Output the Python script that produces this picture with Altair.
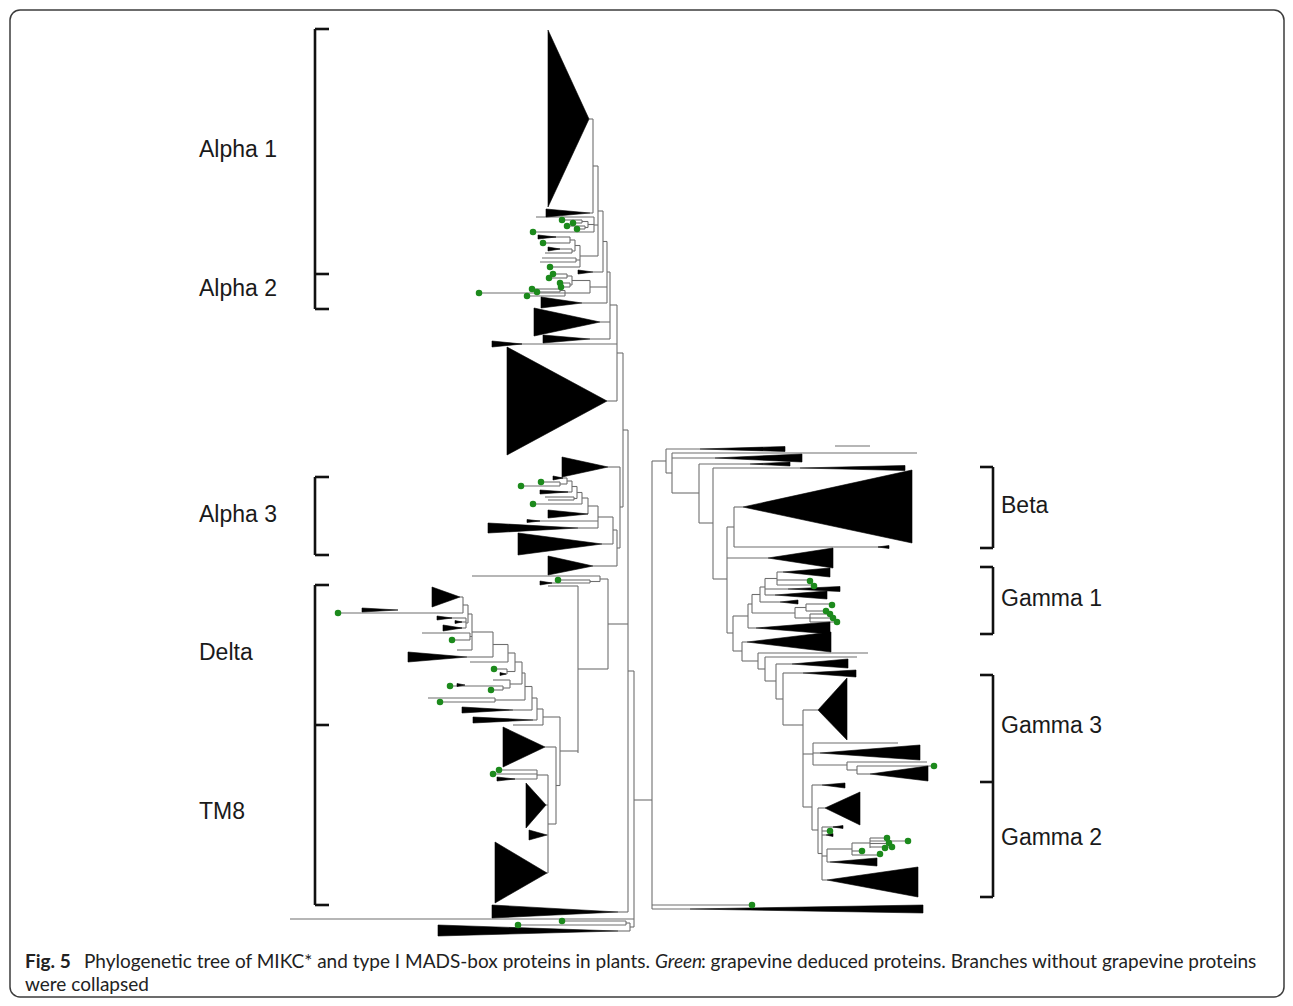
import altair as alt
import pandas as pd

# ---------------- tree data (x = branch position, y = row position) ----------------
# Horizontal branches: (x_from, x_to, y)
alpha12_h = [
    (589, 593, 119), (590, 593, 213), (593, 598, 166),
    (562, 582, 220), (573, 582, 223), (582, 588, 221.5),
    (567, 585, 226), (577, 585, 229), (585, 588, 227.5), (588, 594, 224.5),
    (536, 594, 217), (533, 594, 232), (594, 598, 225),
    (538, 570, 237), (543, 570, 243), (570, 575, 240),
    (548, 572, 249), (545, 572, 253), (572, 575, 251), (575, 580, 245.5),
    (542, 576, 258), (540, 576, 262), (576, 580, 260), (550, 580, 267),
    (580, 598, 256), (598, 603, 211), (593, 603, 272), (603, 607, 241.5),
    (553, 567, 274), (549, 567, 278), (567, 572, 276),
    (560, 570, 283), (561, 570, 287), (570, 572, 285), (572, 590, 280.5),
    (532, 560, 289), (537, 560, 292), (560, 565, 290.5),
    (479, 565, 293), (527, 565, 296), (565, 590, 293), (590, 607, 287),
    (582, 607, 303), (607, 610, 272), (600, 610, 322), (590, 610, 339),
    (610, 617, 305), (492, 617, 344), (607, 617, 401), (617, 623, 353),
]
alpha12_v = [
    (593, 119, 213), (582, 220, 223), (585, 226, 229), (588, 221.5, 227.5),
    (594, 217, 232), (570, 237, 243), (572, 249, 253), (575, 240, 251),
    (576, 258, 262), (580, 245.5, 267), (598, 166, 256), (603, 211, 272),
    (567, 274, 278), (570, 283, 287), (572, 276, 285), (560, 289, 292),
    (565, 290.5, 296), (590, 280.5, 293), (607, 241.5, 303), (610, 272, 339),
    (617, 305, 401),
]
# Collapsed clades: (tip_x, tip_y, base_x, base_y1, base_y2)
alpha12_tri = [
    (589, 119, 548, 30, 207), (590, 213, 546, 209, 217), (556, 237, 538, 235, 239),
    (560, 249, 548, 247, 251), (593, 272, 578, 270, 274), (582, 303, 541, 297, 308),
    (600, 322, 534, 308, 336), (590, 339, 543, 335, 343), (522, 344, 492, 341, 347),
    (607, 401, 507, 347, 455),
]
alpha12_dots = [
    (562, 220), (567, 226), (573, 223), (577, 229), (533, 232), (543, 243),
    (550, 267), (553, 274), (549, 278), (560, 283), (561, 287), (532, 289),
    (537, 292), (479, 293), (527, 296),
]

alpha3_h = [
    (608, 620, 467), (521, 560, 486), (541, 560, 482), (560, 567, 484),
    (555, 567, 478), (567, 572, 481), (540, 572, 492), (572, 577, 486.5),
    (545, 574, 497), (548, 574, 500), (574, 577, 498.5), (577, 582, 492.5),
    (533, 582, 504), (582, 588, 498), (588, 598, 506), (527, 598, 521),
    (578, 598, 528), (598, 613, 517), (602, 613, 544), (613, 617, 530),
    (593, 617, 566), (617, 620, 548), (620, 623, 507), (623, 628, 430),
    (472, 600, 576), (558, 590, 580), (540, 590, 583), (590, 600, 581.5),
    (600, 608, 579), (548, 578, 586), (578, 608, 669), (608, 628, 624),
]
alpha3_v = [
    (560, 482, 486), (567, 478, 484), (572, 481, 492), (574, 497, 500),
    (577, 486.5, 498.5), (582, 492.5, 504), (588, 498, 514), (598, 506, 528),
    (613, 517, 544), (617, 530, 566), (620, 467, 548), (623, 353, 507),
    (590, 580, 583), (600, 576, 581.5), (578, 586, 753), (608, 579, 669),
]
alpha3_tri = [
    (608, 467, 562, 457, 477), (563, 478, 553, 476, 480), (568, 492, 540, 490, 494),
    (588, 514, 548, 510, 518), (540, 521, 527, 519.5, 522.5), (578, 528, 488, 523, 533),
    (602, 544, 518, 533, 555), (593, 566, 548, 556, 575), (552, 583, 540, 581, 585),
]
alpha3_dots = [(521, 486), (541, 482), (533, 504), (558, 580)]

delta_h = [
    (460, 463, 597), (338, 463, 613), (463, 468, 605), (437, 466, 618),
    (455, 466, 622), (443, 466, 628), (466, 468, 623), (468, 472, 614),
    (422, 470, 633), (452, 470, 640), (470, 472, 636.5), (457, 472, 650),
    (472, 493, 632), (467, 493, 657), (493, 508, 644.5), (470, 508, 662),
    (508, 515, 653), (494, 507, 669), (500, 507, 674), (507, 515, 671.5),
    (515, 522, 662), (450, 503, 686), (491, 503, 690), (503, 510, 688),
    (493, 510, 680), (510, 522, 684), (522, 525, 673), (428, 495, 698),
    (440, 495, 702), (495, 525, 700), (525, 532, 686.5), (513, 532, 710),
    (532, 537, 698), (533, 537, 720), (537, 543, 709), (513, 543, 725),
    (543, 560, 717),
]
delta_v = [
    (463, 597, 613), (466, 618, 628), (468, 605, 623), (470, 633, 640),
    (472, 614, 650), (493, 632, 657), (508, 644.5, 662), (507, 669, 674),
    (515, 653, 671.5), (503, 686, 690), (510, 680, 688), (522, 662, 684),
    (495, 698, 702), (525, 673, 700), (532, 686.5, 710), (537, 698, 720),
    (543, 709, 725),
]
delta_tri = [
    (460, 597, 432, 587, 607), (398, 610, 362, 608, 612), (452, 618, 437, 616, 620),
    (462, 622, 455, 620.5, 623.5), (462, 628, 443, 625, 631), (467, 657, 408, 652, 662),
    (506, 674, 500, 672.5, 675.5), (465, 685, 457, 683.5, 686.5),
    (513, 710, 462, 707, 713), (533, 720, 473, 717, 723),
]
delta_dots = [(338, 613), (452, 640), (494, 669), (450, 686), (491, 690), (440, 702)]

tm8_h = [
    (545, 556, 747), (499, 537, 770), (493, 537, 774), (497, 537, 779),
    (537, 548, 775), (546, 548, 805), (547, 548, 835), (547, 548, 873),
    (548, 556, 824), (556, 560, 785.5), (560, 578, 751),
]
tm8_v = [(537, 770, 779), (548, 775, 873), (556, 747, 824), (560, 717, 785.5)]
tm8_tri = [
    (545, 747, 503, 727, 767), (515, 779, 497, 777, 781), (546, 805, 526, 783, 828),
    (547, 835, 529, 830, 840), (547, 873, 495, 842, 903),
]
tm8_dots = [(499, 770), (493, 774)]

root_h = [
    (618, 628, 912), (628, 634, 671), (290, 634, 919), (562, 626, 921),
    (518, 626, 925), (626, 630, 923), (618, 630, 931), (630, 634, 927),
    (634, 652, 800), (835, 870, 446),
]
root_v = [(628, 430, 912), (626, 921, 925), (630, 923, 931), (634, 671, 927), (652, 461, 909)]
root_tri = [(618, 912, 492, 905, 918), (618, 931, 438, 925, 936)]
root_dots = [(562, 921), (518, 925)]

beta_gamma1_h = [
    (652, 666, 461), (666, 700, 449), (666, 672, 473), (672, 917, 453),
    (672, 715, 458), (672, 699, 493), (699, 750, 464), (699, 713, 523),
    (713, 800, 468), (713, 727, 579), (727, 734, 527), (734, 743, 507),
    (734, 886, 547), (727, 768, 558), (727, 733, 633),
    (777, 783, 572), (777, 808, 580), (777, 812, 585), (765, 777, 578.5),
    (765, 788, 589), (765, 775, 595), (760, 765, 587), (760, 780, 602),
    (752, 760, 594.5), (806, 831, 604), (806, 826, 611), (795, 806, 607.5),
    (810, 830, 614), (810, 833, 618), (810, 837, 622), (795, 810, 618),
    (752, 795, 613), (748, 752, 604), (748, 756, 628), (733, 748, 616),
    (742, 747, 642), (733, 742, 651),
]
beta_gamma1_v = [
    (666, 449, 473), (672, 453, 493), (699, 464, 523), (713, 468, 579),
    (727, 527, 633), (734, 507, 547), (777, 572, 585), (765, 578.5, 595),
    (760, 587, 602), (806, 604, 611), (810, 614, 622), (795, 607.5, 618),
    (752, 594.5, 613), (748, 604, 628), (742, 642, 661), (733, 616, 651),
]
beta_gamma1_tri = [
    (700, 449, 785, 446.5, 451.5), (715, 458, 802, 454, 462), (750, 464, 790, 462, 466),
    (800, 468, 905, 465.5, 470.5), (743, 507, 912, 470, 543), (878, 547, 889, 545.5, 548.5),
    (768, 558, 833, 548, 568), (783, 572, 830, 568, 577), (788, 589, 840, 586.5, 591.5),
    (775, 595, 827, 591, 599), (780, 602, 798, 600, 604), (756, 628, 830, 622, 634),
    (747, 642, 831, 632, 652),
]
beta_gamma1_dots = [
    (810, 581), (814, 586), (832, 605), (826, 611), (830, 614), (833, 618), (837, 622),
]

gamma23_h = [
    (742, 758, 661), (758, 868, 653), (758, 765, 669), (765, 857, 657),
    (765, 776, 681), (776, 792, 664), (776, 783, 699), (783, 803, 673),
    (783, 803, 725), (803, 818, 710), (803, 813, 754), (813, 898, 743),
    (813, 820, 753), (813, 847, 765), (847, 927, 762), (847, 857, 770),
    (857, 933, 766), (857, 870, 774),
    (803, 812, 807), (812, 822, 785), (812, 818, 830), (818, 825, 808),
    (818, 822, 853.5), (822, 843, 827), (822, 830, 831), (822, 826, 835),
    (822, 827, 856), (827, 852, 849), (827, 830, 862), (852, 862, 851),
    (852, 878, 855), (852, 870, 843), (870, 887, 838), (870, 908, 841),
    (870, 888, 843.5), (870, 892, 847), (822, 827, 880),
    (652, 750, 905), (652, 690, 909),
]
gamma23_v = [
    (758, 653, 669), (765, 657, 681), (776, 664, 699), (783, 673, 725),
    (803, 710, 807), (813, 743, 765), (847, 762, 770), (857, 766, 774),
    (812, 785, 830), (818, 808, 853.5), (822, 827, 880), (827, 849, 862),
    (852, 843, 855), (870, 838, 848),
]
gamma23_tri = [
    (792, 664, 848, 659, 668), (803, 673, 856, 670, 677), (818, 710, 847, 678, 740),
    (820, 753, 920, 745, 760), (870, 774, 928, 766, 781), (822, 785, 845, 783, 788),
    (825, 808, 860, 792, 825), (833, 827, 843, 825.5, 828.5), (826, 835, 833, 833.5, 836.5),
    (830, 862, 877, 858, 866), (827, 880, 918, 867, 897), (690, 909, 923, 905, 913),
]
gamma23_dots = [
    (934, 766), (830, 831), (887, 838), (908, 841), (889, 843), (892, 847),
    (885, 848), (862, 851), (880, 854), (752, 905),
]

# ---------------- brackets and labels ----------------
bracket_left = [(315, 29, 309, [29, 274, 309]), (315, 477, 555, [477, 555]), (315, 585, 905, [585, 725, 905])]
bracket_right = [(993, 467, 548, [467, 548]), (993, 567, 634, [567, 634]), (993, 675, 897, [675, 782, 897])]
clade_names = ["Alpha 1", "Alpha 2", "Alpha 3", "Delta", "TM8", "Beta", "Gamma 1", "Gamma 3", "Gamma 2"]
clade_label_x = [199, 199, 199, 199, 199, 1001, 1001, 1001, 1001]
clade_label_y = [150, 289, 515, 653, 812, 506, 599, 726, 838]

caption_parts = ["Fig. 5", "Phylogenetic tree of MIKC* and type I MADS-box proteins in plants.", "Green",
                 ": grapevine deduced proteins. Branches without grapevine proteins", "were collapsed"]
caption_x = [25, 84, 655, 701, 25]
caption_y = [962, 962, 962, 962, 985]
caption_style = ["bold", "normal", "italic", "normal", "normal"]

# ---------------- build tables ----------------
H = alpha12_h + alpha3_h + delta_h + tm8_h + root_h + beta_gamma1_h + gamma23_h
V = alpha12_v + alpha3_v + delta_v + tm8_v + root_v + beta_gamma1_v + gamma23_v
T = alpha12_tri + alpha3_tri + delta_tri + tm8_tri + root_tri + beta_gamma1_tri + gamma23_tri
D = alpha12_dots + alpha3_dots + delta_dots + tm8_dots + root_dots + beta_gamma1_dots + gamma23_dots

seg = [dict(x=a, x2=b, y=c, y2=c) for a, b, c in H] + [dict(x=a, x2=a, y=b, y2=c) for a, b, c in V]
seg_df = pd.DataFrame(seg)

tri_rows = []
for i, (tx, ty, bx, b1, b2) in enumerate(T):
    tri_rows.append(dict(id=i, x=tx, y=ty, y2=ty))
    tri_rows.append(dict(id=i, x=bx, y=b1, y2=b2))
tri_df = pd.DataFrame(tri_rows)

dot_df = pd.DataFrame(D, columns=["x", "y"])

br = []
for bx, y1, y2, ticks in bracket_left:
    br.append(dict(x=bx, x2=bx, y=y1, y2=y2))
    for t in ticks:
        br.append(dict(x=bx, x2=bx + 14, y=t, y2=t))
for bx, y1, y2, ticks in bracket_right:
    br.append(dict(x=bx, x2=bx, y=y1, y2=y2))
    for t in ticks:
        br.append(dict(x=bx - 13, x2=bx, y=t, y2=t))
br_df = pd.DataFrame(br)

lab_df = pd.DataFrame(dict(text=clade_names, x=clade_label_x, y=clade_label_y))
cap_df = pd.DataFrame(dict(text=caption_parts, x=caption_x, y=caption_y, style=caption_style))
frame_df = pd.DataFrame([dict(x=10, x2=1284, y=10, y2=997)])

xs = alt.Scale(domain=[8, 1285], nice=False, zero=False)
ys = alt.Scale(domain=[8, 998], nice=False, zero=False, reverse=True)
X = alt.X("x:Q", scale=xs, axis=None)
Y = alt.Y("y:Q", scale=ys, axis=None)

frame = alt.Chart(frame_df).mark_rect(cornerRadius=10, fillOpacity=0, stroke="#3c3c3c", strokeWidth=1.5).encode(
    x=X, x2="x2:Q", y=Y, y2="y2:Q")

branches = alt.Chart(seg_df).mark_rule(color="#6f6f6f", strokeWidth=1.1).encode(
    x=X, x2="x2:Q", y=Y, y2="y2:Q")

clades = alt.Chart(tri_df).mark_area(orient="vertical", color="black", stroke="black", strokeWidth=0.6,
                                     interpolate="linear").encode(
    x=X, y=Y, y2="y2:Q", detail="id:N")

dots = alt.Chart(dot_df).mark_circle(size=42, color="#1c8a1c", opacity=1).encode(x=X, y=Y)

brackets = alt.Chart(br_df).mark_rule(color="#111111", strokeWidth=2.6).encode(
    x=X, x2="x2:Q", y=Y, y2="y2:Q")

labels = alt.Chart(lab_df).mark_text(align="left", baseline="middle", font="Liberation Sans",
                                     fontSize=23, color="#1a1a1a").encode(x=X, y=Y, text="text:N")

cap_layers = []
for st in ["bold", "normal", "italic"]:
    sub = cap_df[cap_df["style"] == st]
    kw = dict(align="left", baseline="middle", font="Lato", fontSize=19, color="#222222")
    if st == "bold":
        kw["fontWeight"] = "bold"
    if st == "italic":
        kw["fontStyle"] = "italic"
    cap_layers.append(alt.Chart(sub).mark_text(**kw).encode(x=X, y=Y, text="text:N"))

chart = alt.layer(frame, branches, clades, dots, brackets, labels, *cap_layers).properties(
    width=1277, height=990, padding=0, autosize=alt.AutoSizeParams(type="none")
).configure_view(stroke=None)

chart.save("out.html", embed_options={"renderer": "svg", "actions": False})
